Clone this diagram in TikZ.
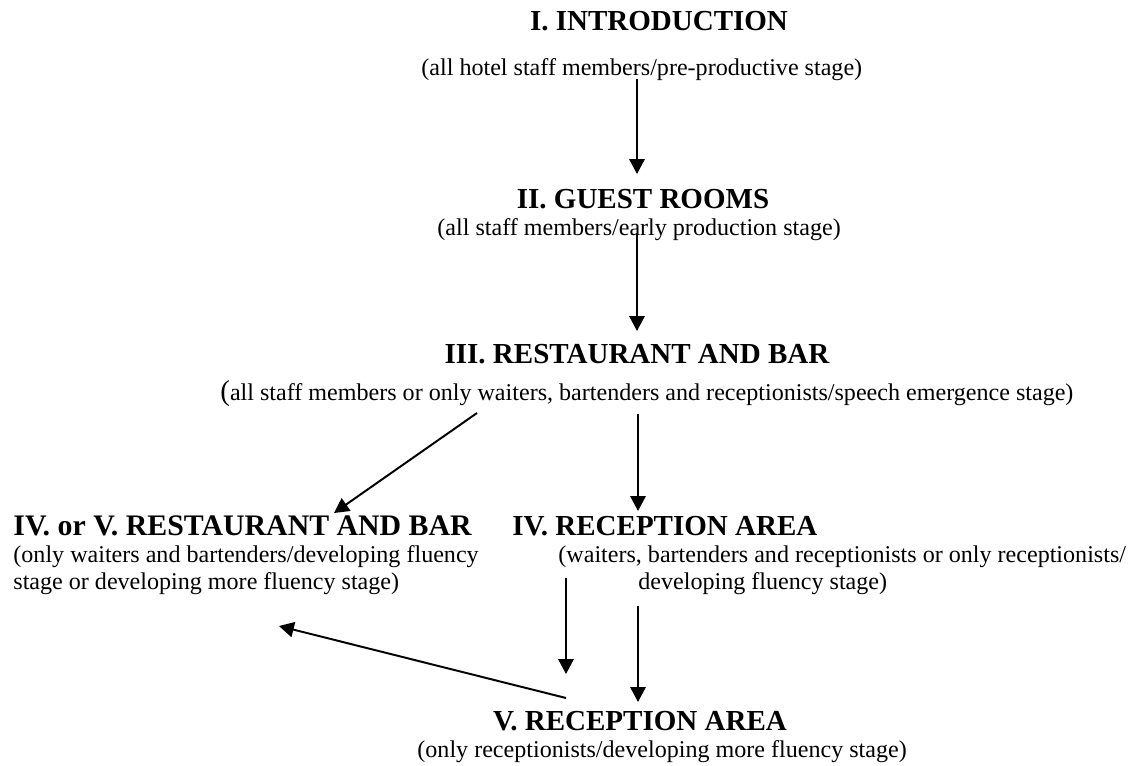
\documentclass[tikz,border=0pt]{standalone}
\usepackage{fontspec}
\setmainfont{Liberation Serif}
\usetikzlibrary{arrows.meta}
\begin{document}
\begin{tikzpicture}[x=0.486pt,y=-0.486pt,
  title/.style={font=\fontsize{14.1}{16}\selectfont\bfseries,inner sep=0pt},
  sub/.style={font=\fontsize{11.7}{14}\selectfont,inner sep=0pt},
  flow/.style={line width=0.95pt,-{Triangle[length=7.2pt,width=7.4pt]}}]
\useasboundingbox (0,0) rectangle (1129,766);
% titles and subtitles
\node[title,anchor=base] (t1) at (659,30) {I. INTRODUCTION};
\node[sub,anchor=base west] (s1) at (421,75) {(all hotel staff members/pre-productive stage)};
\node[title,anchor=base] (t2) at (643,208) {II. GUEST ROOMS};
\node[sub,anchor=base west] (s2) at (437,235) {(all staff members/early production stage)};
\node[title,anchor=base] (t3) at (637,363) {III. RESTAURANT AND BAR};
\node[sub,anchor=base west] (s3) at (220,400) {{\fontsize{14}{14}\selectfont(}all staff members or only waiters, bartenders and receptionists/speech emergence stage)};
\node[title,anchor=base west,font=\fontsize{14.5}{16}\selectfont\bfseries] (t4l) at (13,535) {IV. or V. RESTAURANT AND BAR};
\node[sub,anchor=base west] (s4la) at (13,562) {(only waiters and bartenders/developing fluency};
\node[sub,anchor=base west] (s4lb) at (13,589) {stage or developing more fluency stage)};
\node[title,anchor=base west] (t4r) at (512,535) {IV. RECEPTION AREA};
\node[sub,anchor=base west] (s4ra) at (558,562) {(waiters, bartenders and receptionists or only receptionists/};
\node[sub,anchor=base west] (s4rb) at (638,589) {developing fluency stage)};
\node[title,anchor=base] (t5) at (640,730) {V. RECEPTION AREA};
\node[sub,anchor=base west] (s5) at (417,757) {(only receptionists/developing more fluency stage)};
% connector end points
\coordinate (a1s) at (637,79);   \coordinate (a1e) at (637,174);
\coordinate (a2s) at (637,233);  \coordinate (a2e) at (637,331);
\coordinate (a3s) at (477,413);  \coordinate (a3e) at (334,513);
\coordinate (a4s) at (638,414);  \coordinate (a4e) at (638,511);
\coordinate (a5s) at (566,578);  \coordinate (a5e) at (566,674);
\coordinate (a6s) at (638,606);  \coordinate (a6e) at (638,702);
\coordinate (a7s) at (566,698);  \coordinate (a7e) at (279,626);
% connectors
\draw[flow] (a1s) -- (a1e);
\draw[flow] (a2s) -- (a2e);
\draw[flow] (a3s) -- (a3e);
\draw[flow] (a4s) -- (a4e);
\draw[flow] (a5s) -- (a5e);
\draw[flow] (a6s) -- (a6e);
\draw[flow] (a7s) -- (a7e);
\end{tikzpicture}
\end{document}
